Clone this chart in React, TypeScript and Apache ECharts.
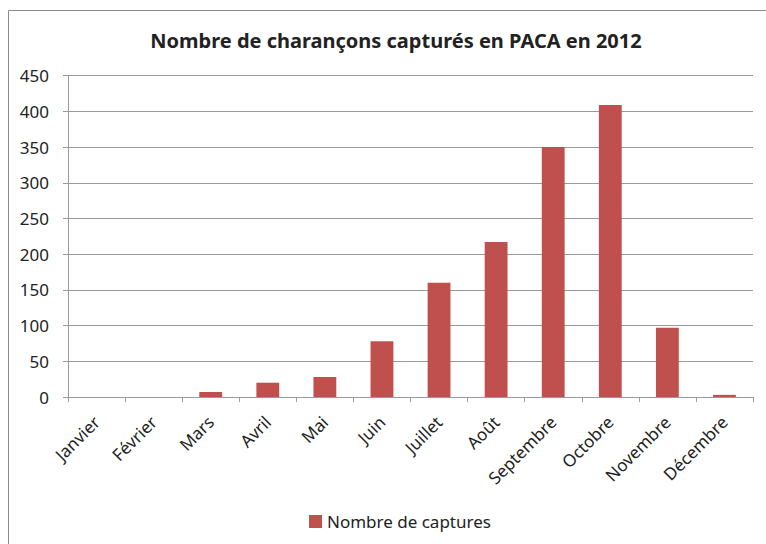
import React, { useEffect, useRef } from "react";
import * as echarts from "echarts";

const months = ["Janvier", "Février", "Mars", "Avril", "Mai", "Juin", "Juillet", "Août", "Septembre", "Octobre", "Novembre", "Décembre"];
const captures = [0, 0, 7, 20, 28, 78, 160, 217, 350, 409, 97, 3];
const seriesName = "Nombre de captures";
const titleText = "Nombre de charançons capturés en PACA en 2012";

export default function App() {
  const ref = useRef<HTMLDivElement>(null);
  useEffect(() => {
    if (!ref.current) return;
    const chart = echarts.init(ref.current, null, { renderer: "svg" });
    const font = "'Noto Sans', 'Open Sans', sans-serif";
    chart.setOption({
      animation: false,
      backgroundColor: "#ffffff",
      textStyle: { fontFamily: font },
      title: {
        text: titleText,
        left: 391,
        textAlign: "center",
        top: 25,
        textStyle: { fontFamily: font, fontSize: 20, fontWeight: "bold", color: "#222" },
      },
      graphic: [
        {
          type: "rect",
          shape: { x: 8.5, y: 10.5, width: 800, height: 600 },
          style: { fill: "none", stroke: "#8a8a8a", lineWidth: 1 },
          silent: true,
        },
      ],
      legend: {
        data: [seriesName],
        left: 304,
        top: 508,
        itemWidth: 13,
        itemHeight: 13,
        itemGap: 6,
        icon: "rect",
        textStyle: { fontFamily: font, fontSize: 17, color: "#222", padding: [0, 0, 0, 0] },
      },
      grid: { left: 68, right: 13, top: 75.7, bottom: 147, containLabel: false },
      xAxis: {
        type: "category",
        data: months,
        axisLine: { lineStyle: { color: "#9a9a9a", width: 1 } },
        axisTick: { show: true, length: 5, lineStyle: { color: "#9a9a9a" } },
        axisLabel: { rotate: 45, fontSize: 17, color: "#222", margin: 22, interval: 0, fontFamily: font },
      },
      yAxis: {
        type: "value",
        min: 0,
        max: 450,
        interval: 50,
        axisLine: { show: true, lineStyle: { color: "#9a9a9a", width: 1 } },
        axisTick: { show: true, length: 5, lineStyle: { color: "#9a9a9a" } },
        axisLabel: { fontSize: 17, color: "#222", margin: 19, fontFamily: font },
        splitLine: { lineStyle: { color: "#9a9a9a", width: 1 } },
      },
      series: [
        {
          name: seriesName,
          type: "bar",
          data: captures,
          barWidth: "40%",
          itemStyle: { color: "#C0504D" },
        },
      ],
    });
    return () => chart.dispose();
  }, []);
  return (
    <div
      ref={ref}
      style={{ position: "fixed", left: 0, top: 0, width: 766, height: 544 }}
    />
  );
}
